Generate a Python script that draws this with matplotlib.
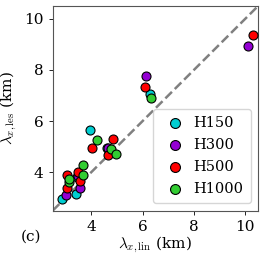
import matplotlib
matplotlib.use("Agg")
import matplotlib.pyplot as plt

plt.rcParams["font.family"] = ["DejaVu Serif"]
plt.rcParams["mathtext.fontset"] = "cm"

# lambda_x from linear theory vs LES (km), per case
labels = ["H150", "H300", "H500", "H1000"]
colors = ["darkturquoise", "darkviolet", "red", "limegreen"]

h150_lin = [2.87, 3.40, 3.43, 3.97, 4.62, 6.28]
h150_les = [2.95, 3.13, 3.83, 5.65, 4.95, 7.04]

h300_lin = [3.00, 3.55, 3.50, 4.65, 6.12, 10.12]
h300_les = [3.12, 3.40, 3.87, 4.95, 7.78, 8.95]

h500_lin = [3.06, 3.07, 3.55, 3.48, 4.04, 4.84, 4.65, 6.08, 10.30]
h500_les = [3.40, 3.88, 3.65, 4.02, 4.93, 5.29, 4.67, 7.34, 9.37]

h1000_lin = [3.15, 3.15, 3.67, 3.67, 4.23, 4.78, 4.97, 6.31]
h1000_les = [3.61, 3.72, 3.90, 4.27, 5.27, 4.92, 4.72, 6.91]

xs = [h150_lin, h300_lin, h500_lin, h1000_lin]
ys = [h150_les, h300_les, h500_les, h1000_les]

fig = plt.figure(figsize=(2.65, 2.6), dpi=100)
ax = fig.add_axes([0.199, 0.19, 0.775, 0.787])

lims = [2.5, 10.5]
ax.plot(lims, lims, ls="--", color="grey", lw=1.8, zorder=1)

for x, y, c, lbl in zip(xs, ys, colors, labels):
    ax.scatter(x, y, s=42, c=c, edgecolors="black", linewidths=0.8,
               label=lbl, zorder=3)

ax.set_xlim(lims)
ax.set_ylim(lims)
ax.set_xticks([4, 6, 8, 10])
ax.set_yticks([4, 6, 8, 10])
ax.tick_params(labelsize=11, length=3, width=0.6)
for sp in ax.spines.values():
    sp.set_color("#555555")
    sp.set_linewidth(0.8)

ax.set_xlabel(r"$\lambda_{x,\mathrm{lin}}$ (km)", fontsize=11, labelpad=1)
ax.set_ylabel(r"$\lambda_{x,\mathrm{les}}$ (km)", fontsize=11, labelpad=4)
fig.text(0.116, 0.088, "(c)", fontsize=11, ha="center", va="center")

ax.legend(loc="lower right", fontsize=10.5, handletextpad=0.3,
          borderaxespad=0.5, handlelength=2.0, labelspacing=0.55,
          borderpad=0.5, markerscale=1.1)

fig.savefig("out.png", dpi=100)
